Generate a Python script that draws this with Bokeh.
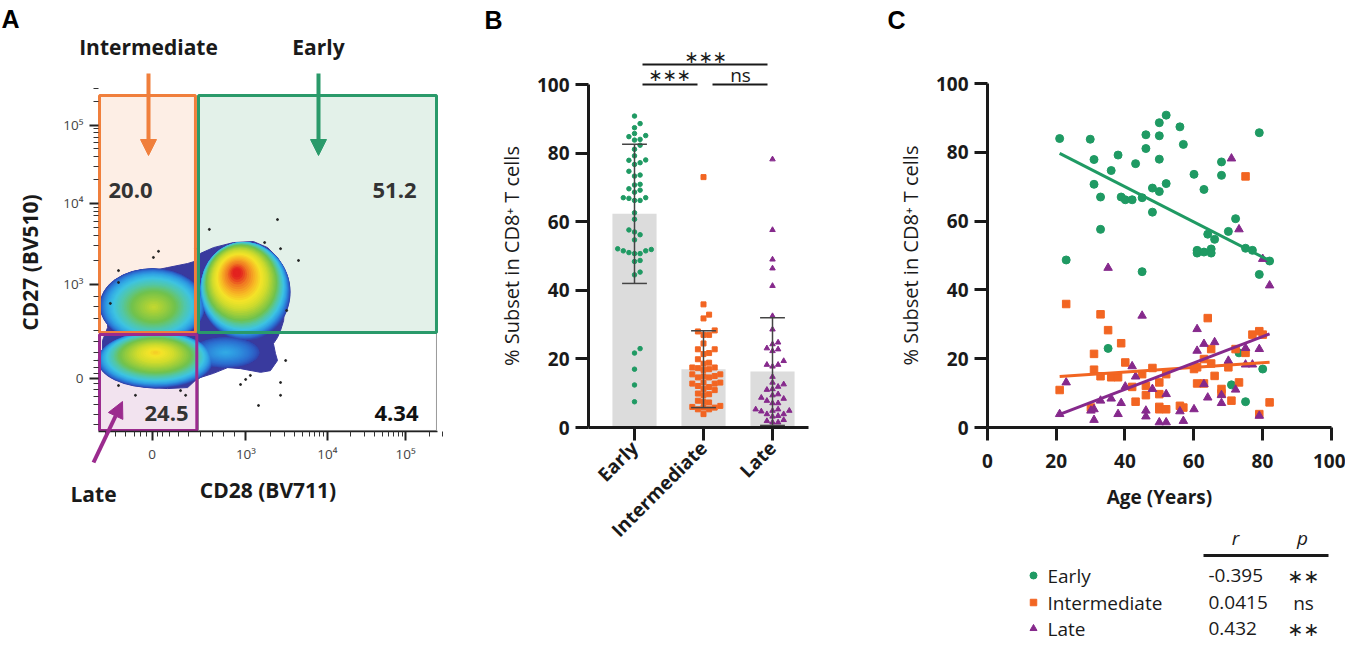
import math
from bokeh.plotting import figure
from bokeh.layouts import row
from bokeh.models import (Range1d, FixedTicker, LinearAxis, Arrow, NormalHead)
from bokeh.core.properties import value
from bokeh.embed import file_html
from bokeh.resources import INLINE

FONT = "Open Sans"

# ---------------- data ----------------
subsets = ["Early", "Intermediate", "Late"]

early_age = [21.0, 22.9, 29.9, 31.0, 31.0, 32.9, 32.9, 35.1, 36.0, 38.0, 38.9, 40.1, 42.1, 43.1, 45.0,
             45.0, 46.1, 46.1, 48.0, 48.0, 50.0, 50.0, 50.0, 50.0, 52.0, 52.0, 56.0, 57.0, 60.1, 61.0,
             61.0, 63.0, 63.0, 64.1, 65.1, 65.1, 66.1, 68.1, 68.1, 70.1, 72.2, 73.2, 71.0, 75.1, 75.1,
             77.1, 79.1, 79.1, 80.1, 82.1]
early_pct = [84.0, 48.7, 83.8, 77.9, 70.7, 67.0, 57.6, 23.0, 74.7, 79.2, 67.0, 66.2, 66.2, 76.7, 66.8,
             45.3, 85.1, 81.1, 69.6, 62.6, 88.6, 84.8, 78.0, 68.6, 90.8, 70.9, 87.4, 82.3, 73.6, 50.7,
             51.5, 69.2, 51.0, 56.2, 51.9, 50.7, 54.7, 77.2, 73.3, 57.0, 60.7, 21.7, 12.4, 7.5, 52.1,
             51.5, 85.7, 44.5, 17.0, 48.4]

inter_age = [21.0, 22.9, 30.1, 31.0, 31.0, 32.9, 32.9, 35.1, 36.0, 38.0, 38.9, 40.1, 42.1, 43.1, 45.0,
             46.1, 46.1, 48.0, 50.0, 50.0, 50.0, 50.0, 52.0, 52.0, 56.0, 57.0, 60.1, 61.0, 61.0, 63.0,
             63.0, 64.1, 65.1, 65.1, 66.1, 68.1, 68.1, 70.1, 71.0, 72.2, 73.2, 75.1, 75.1, 77.1, 79.1,
             80.1, 79.1, 82.1]
inter_pct = [10.9, 35.9, 5.8, 21.4, 16.8, 32.9, 14.9, 28.3, 14.6, 14.6, 24.5, 18.9, 11.8, 7.5, 15.5,
             12.1, 9.4, 17.3, 13.1, 9.7, 6.0, 5.3, 15.5, 5.3, 6.3, 5.8, 17.0, 17.5, 12.8, 12.8,
             19.9, 31.8, 22.8, 18.6, 15.0, 11.2, 9.9, 17.5, 7.8, 22.8, 13.1, 73.0, 21.7, 27.0, 28.0,
             27.0, 3.9, 7.3]

late_age = [21.0, 22.9, 30.1, 31.0, 31.0, 32.9, 35.1, 36.0, 38.0, 38.9, 40.1, 42.1, 43.1, 45.0, 46.1,
            46.1, 48.0, 50.0, 52.0, 52.0, 56.0, 57.0, 60.1, 61.0, 61.0, 63.0, 63.0, 64.1, 66.1, 68.1,
            68.1, 70.1, 71.0, 72.2, 73.2, 75.1, 75.1, 77.1, 79.1, 79.1, 80.1, 82.1]
late_pct = [3.9, 13.1, 4.9, 5.3, 2.2, 7.8, 46.4, 8.4, 3.9, 7.1, 11.9, 17.8, 14.8, 32.5, 4.9,
            3.2, 11.2, 1.5, 1.5, 9.7, 4.7, 1.9, 5.3, 28.6, 22.3, 24.3, 12.6, 8.7, 24.8, 7.1,
            9.4, 19.4, 78.2, 11.0, 57.6, 23.1, 18.3, 18.3, 22.8, 3.4, 49.0, 41.3]

bar_mean = [62.3, 17.0, 16.3]
bar_sd = [20.3, 11.2, 15.7]

fit_age = [21.0, 82.1]
early_fit = [79.7, 48.5]
inter_fit = [14.8, 19.0]
late_fit = [3.8, 27.2]

r_values = ["-0.395", "0.0415", "0.432"]
p_values = ["∗∗", "ns", "∗∗"]

gate_pct = ["20.0", "51.2", "24.5", "4.34"]

# flow-cytometry gates (display scale 0-100 on both axes)
gate_left = [0.3, 29.5, 0.3]
gate_right = [28.6, 99.7, 29.0]
gate_bottom = [29.3, 29.3, 0.3]
gate_top = [99.4, 99.4, 28.7]
gate_line = ["#f07f3c", "#2a9a6a", "#9b2b8e"]
gate_fill = ["#fdeee5", "#e3f1e9", "#f2e3ef"]

# outer contour of the event cloud
cloud_x = [3.5, 5.0, 8.6, 14.5, 20.4, 26.3, 29.2, 30.1, 33.9, 39.8, 45.7, 49.9, 52.8, 54.6, 55.2,
           54.6, 53.7, 52.8, 51.6, 52.2, 52.8, 50.7, 47.8, 41.9, 38.1, 33.9, 29.2, 26.3, 20.4,
           14.5, 8.6, 4.4, 2.1, 1.2, 1.2, 2.7, 2.7]
cloud_y = [40.8, 44.7, 46.4, 47.3, 48.5, 49.7, 50.6, 52.7, 54.4, 55.9, 56.2, 54.4, 51.5, 48.5, 40.8,
           32.8, 29.9, 27.8, 26.0, 23.1, 21.0, 18.0, 17.5, 18.6, 18.9, 17.2, 15.7, 13.0, 12.7,
           13.0, 14.2, 16.0, 18.9, 23.1, 26.9, 30.8, 34.9]
# density peaks inside the cloud: base centre, drift of the core, size, peak level
blob_x = [43.4, 15.9, 16.8, 37.5]
blob_y = [41.2, 37.3, 21.0, 23.4]
blob_dx = [-2.7, 0.4, 0.0, 0.0]
blob_dy = [6.0, -0.5, 2.4, 0.0]
blob_w = [26.5, 31.0, 34.0, 20.0]
blob_h = [28.5, 22.0, 16.5, 9.0]
blob_peak = [1.06, 0.64, 0.80, 0.25]
jet = ["#393a9e", "#2f4fb8", "#2c76d4", "#30a2e4", "#3ec4e2", "#52c7a8", "#71c24c",
       "#a0ce3a", "#d2dc2c", "#f4e428", "#f7b625", "#f07c22", "#e3221f"]
# isolated events
event_x = [17.7, 16.2, 5.9, 5.9, 32.7, 52.8, 49.0, 53.7, 59.0, 55.5, 44.8, 43.4, 41.9, 47.2, 53.7,
           53.7, 55.2, 5.9, 10.9, 24.2, 25.7, 3.5, 28.6]
event_y = [53.3, 51.5, 47.6, 44.1, 59.8, 62.7, 55.9, 54.1, 50.6, 35.8, 16.6, 15.4, 13.9, 7.7, 10.7,
           14.5, 21.0, 13.6, 10.7, 12.1, 10.7, 37.9, 54.1]

a_major = [15.8, 43.5, 67.5, 90.6]
a_labels = ["0", "10³", "10⁴", "10⁵"]

GREEN = "#1f9a63"
ORANGE = "#f26522"
PURPLE = "#86298c"
DARK = "#1a1a1a"
H = 645          # page pixels 0..645 (Bokeh page has no body margin)


def jet_color(t):
    t = min(max(t, 0.0), 1.0) * (len(jet) - 1)
    i = min(int(t), len(jet) - 2)
    f = t - i
    c0 = [int(jet[i][k:k + 2], 16) for k in (1, 3, 5)]
    c1 = [int(jet[i + 1][k:k + 2], 16) for k in (1, 3, 5)]
    return "#%02x%02x%02x" % tuple(round(a + (b - a) * f) for a, b in zip(c0, c1))


def decade_minors(majors):
    out = []
    for lo, hi in [(majors[1], majors[2]), (majors[2], majors[3])]:
        w = hi - lo
        out += [lo + math.log10(m) * w for m in range(2, 10)]
    w = majors[3] - majors[2]
    out += [majors[3] + math.log10(m) * w for m in (2, 3)]
    out += [2.0, 5.0, 8.0, 10.5, 12.5, 14.2, 17.3, 19.0, 21.0, 23.5, 26.5, 30.0, 33.5, 37.0, 40.0]
    return out


def make_fig(width, xr, yr):
    p = figure(frame_width=width, frame_height=H, x_range=Range1d(*xr), y_range=Range1d(*yr),
               min_border=0, min_border_left=0, min_border_right=0, min_border_top=0,
               min_border_bottom=0, x_axis_location=None, y_axis_location=None,
               output_backend="svg", toolbar_location=None)
    p.grid.visible = False
    p.outline_line_color = None
    p.background_fill_color = "white"
    p.border_fill_color = "white"
    return p


def letter(p, x, y, t):
    p.text(x=[x], y=[y], text=[t], text_font=value("Liberation Sans"), text_font_size="25px",
           text_font_style="bold", text_color="black", text_align="left", text_baseline="top")


# ================= Panel A (page x 0..468) =================
def ax_(px):
    return (px - 98) / 3.39


def ay_(py):
    return (431 - py) / 3.38


pa = make_fig(468, (ax_(0), ax_(468)), (ay_(H), ay_(0)))

pa.quad(left=gate_left, right=gate_right, bottom=gate_bottom, top=gate_top,
        fill_color=gate_fill, line_color=None)
pa.quad(left=[gate_left[1]], right=[gate_right[1]], bottom=[0.3], top=[gate_bottom[1]],
        fill_color=None, line_color="#9a9a9a", line_width=1)

pa.patch(cloud_x, cloud_y, fill_color=jet[0], line_color=jet[0], line_width=1)
NL = 44
levels = []
for b in range(len(blob_x)):
    for k in range(NL):
        f = k / NL
        r = 1.0 - f * f
        levels.append((blob_peak[b] * f, blob_x[b] + blob_dx[b] * f, blob_y[b] + blob_dy[b] * f,
                       blob_w[b] * r, blob_h[b] * r))
levels.sort(key=lambda t: t[0])
pa.ellipse(x=[l[1] for l in levels], y=[l[2] for l in levels], width=[l[3] for l in levels],
           height=[l[4] for l in levels], fill_color=[jet_color(0.03 + 0.97 * l[0]) for l in levels],
           line_color=None)
pa.scatter(event_x, event_y, size=2, color="#222222")

pa.quad(left=gate_left, right=gate_right, bottom=gate_bottom, top=gate_top,
        fill_color=None, line_color=gate_line, line_width=3)

pct_x = [ax_(130), ax_(394), ax_(166), ax_(396)]
pct_y = [ay_(190), ay_(190), ay_(413), ay_(413)]
pct_col = ["#333333", "#333333", "#333333", "#111111"]
pa.text(x=pct_x, y=pct_y, text=gate_pct, text_color=pct_col, text_font=value(FONT),
        text_font_size="22px", text_font_style="bold", text_align="center", text_baseline="middle")

ax_x = LinearAxis(fixed_location=0, bounds=(0, 100), axis_label="CD28 (BV711)")
ax_y = LinearAxis(fixed_location=0, bounds=(0, 100), axis_label="CD27 (BV510)")
pa.add_layout(ax_x, "below")
pa.add_layout(ax_y, "left")
for axis in (ax_x, ax_y):
    axis.ticker = FixedTicker(ticks=a_major, minor_ticks=decade_minors(a_major))
    axis.major_label_overrides = {t: l for t, l in zip(a_major, a_labels)}
    axis.axis_label_text_font = FONT
    axis.axis_label_text_font_size = "21px"
    axis.axis_label_text_font_style = "bold"
    axis.axis_label_text_color = DARK
    axis.major_label_text_font = FONT
    axis.major_label_text_font_size = "13.5px"
    axis.major_label_text_color = "#444444"
    axis.major_tick_out = 9
    axis.major_tick_in = 0
    axis.minor_tick_out = 5
    axis.minor_tick_in = 0
    axis.major_tick_line_color = "#222222"
    axis.minor_tick_line_color = "#333333"
    axis.major_tick_line_width = 2
    axis.minor_tick_line_width = 1
ax_y.axis_line_color = None
ax_x.axis_line_color = "#222222"
ax_x.axis_line_width = 1.5
ax_y.major_label_standoff = 6
ax_y.axis_label_standoff = 16
ax_x.major_label_standoff = 4
ax_x.axis_label_standoff = 10

pa.text(x=[ax_(148), ax_(318), ax_(93)], y=[ay_(46), ay_(46), ay_(493)],
        text=["Intermediate", "Early", "Late"], text_font=value(FONT), text_font_size="21px",
        text_font_style="bold", text_color=DARK, text_align="center", text_baseline="middle")
for col, x0, y0, x1, y1 in ((gate_line[0], 148, 73, 148, 155), (gate_line[1], 318, 73, 318, 155),
                            (gate_line[2], 93, 462, 122, 401)):
    pa.add_layout(Arrow(end=NormalHead(size=16, fill_color=col, line_color=col),
                        x_start=ax_(x0), y_start=ay_(y0), x_end=ax_(x1), y_end=ay_(y1),
                        line_color=col, line_width=4))
letter(pa, ax_(1), ay_(4), "A")

# ================= Panel B (page x 468..858) =================
PXX, PXY = 69.0, 3.43


def by_(py):
    return (427 - py) / PXY


def bx_(px):
    return 1 + (px - 634) / PXX


def swarm(vals, center, d=5.6):
    order = sorted(range(len(vals)), key=lambda i: vals[i])
    placed, xs = [], [0.0] * len(vals)
    cands = [0.0]
    for j in range(1, 25):
        cands += [j * d, -j * d]
    for i in order:
        ypx = vals[i] * PXY
        chosen = cands[-1]
        for c in cands:
            if all((c - qx) ** 2 + (ypx - qy) ** 2 >= d * d for qx, qy in placed):
                chosen = c
                break
        placed.append((chosen, ypx))
        xs[i] = center + chosen / PXX
    return xs


pb = make_fig(390, (bx_(468), bx_(858)), (by_(H), by_(0)))
cat_x = [1, 2, 3]
pb.vbar(x=cat_x, top=bar_mean, bottom=0, width=0.64, fill_color="#dcdcdc", line_color=None)
pb.scatter(swarm(early_pct, 1), early_pct, marker="circle", size=4.5, color=GREEN)
pb.scatter(swarm(inter_pct, 2), inter_pct, marker="square", size=5, color=ORANGE)
pb.scatter(swarm(late_pct, 3), late_pct, marker="triangle", size=5.5, color=PURPLE)
lo = [m - s for m, s in zip(bar_mean, bar_sd)]
hi = [m + s for m, s in zip(bar_mean, bar_sd)]
pb.segment(x0=cat_x, y0=lo, x1=cat_x, y1=hi, line_color="#444444", line_width=1.5)
cw = 0.18
pb.segment(x0=[c - cw for c in cat_x], y0=hi, x1=[c + cw for c in cat_x], y1=hi,
           line_color="#444444", line_width=1.5)
pb.segment(x0=[c - cw for c in cat_x], y0=lo, x1=[c + cw for c in cat_x], y1=lo,
           line_color="#444444", line_width=1.5)
# significance brackets
pb.segment(x0=[bx_(642), bx_(712), bx_(642)], y0=[100, 100, by_(64)],
           x1=[bx_(697), bx_(767), bx_(767)], y1=[100, 100, by_(64)],
           line_color=DARK, line_width=2)
pb.text(x=[bx_(669), bx_(705)], y=[by_(74), by_(56)], text=["∗∗∗", "∗∗∗"],
        text_font=value("DejaVu Sans"), text_font_size="17px", text_color=DARK,
        text_align="center", text_baseline="middle")
pb.text(x=[bx_(740)], y=[by_(74)], text=["ns"], text_font=value(FONT), text_font_size="19px",
        text_color=DARK, text_align="center", text_baseline="middle")

bx_axis = LinearAxis(fixed_location=0, bounds=(bx_(588), bx_(808)))
by_axis = LinearAxis(fixed_location=bx_(588), bounds=(0, 100), axis_label="% Subset in CD8⁺ T cells")
pb.add_layout(bx_axis, "below")
pb.add_layout(by_axis, "left")
by_axis.ticker = FixedTicker(ticks=[0, 20, 40, 60, 80, 100])
bx_axis.ticker = FixedTicker(ticks=cat_x)
bx_axis.major_label_overrides = {c: s for c, s in zip(cat_x, subsets)}
bx_axis.major_label_orientation = math.pi / 4
letter(pb, bx_(484), by_(5), "B")

# ================= Panel C (page x 858..1345) =================
CX, CY = 3.436, 3.44


def cx_(px):
    return (px - 987) / CX


def cy_(py):
    return (427 - py) / CY


pc = make_fig(487, (cx_(858), cx_(1345)), (cy_(H), cy_(0)))
pc.scatter(early_age, early_pct, marker="circle", size=8, color=GREEN)
pc.scatter(inter_age, inter_pct, marker="square", size=7.5, color=ORANGE)
pc.scatter(late_age, late_pct, marker="triangle", size=8.5, color=PURPLE)
pc.line(fit_age, early_fit, line_color=GREEN, line_width=3)
pc.line(fit_age, inter_fit, line_color=ORANGE, line_width=3)
pc.line(fit_age, late_fit, line_color=PURPLE, line_width=3)
cx_axis = LinearAxis(fixed_location=0, bounds=(0, 100), axis_label="Age (Years)")
cy_axis = LinearAxis(fixed_location=0, bounds=(0, 100), axis_label="% Subset in CD8⁺ T cells")
pc.add_layout(cx_axis, "below")
pc.add_layout(cy_axis, "left")
cx_axis.ticker = FixedTicker(ticks=[0, 20, 40, 60, 80, 100])
cy_axis.ticker = FixedTicker(ticks=[0, 20, 40, 60, 80, 100])

for xa, ya in ((bx_axis, by_axis), (cx_axis, cy_axis)):
    for axis in (xa, ya):
        axis.axis_line_color = DARK
        axis.axis_line_width = 3
        axis.major_tick_line_color = DARK
        axis.major_tick_line_width = 3
        axis.major_tick_out = 13
        axis.major_tick_in = 0
        axis.minor_tick_line_color = None
        axis.major_label_text_font = FONT
        axis.major_label_text_font_size = "19px"
        axis.major_label_text_font_style = "bold"
        axis.major_label_text_color = DARK
        axis.axis_label_text_font = FONT
        axis.axis_label_text_color = DARK
    ya.axis_label_text_font_size = "20px"
    ya.axis_label_text_font_style = "normal"
    ya.major_label_standoff = 6
    ya.axis_label_standoff = 9
cx_axis.axis_label_text_font_size = "19px"
cx_axis.axis_label_text_font_style = "bold"
cx_axis.major_label_standoff = 13
cx_axis.axis_label_standoff = 13
bx_axis.major_label_standoff = 4
letter(pc, cx_(887), cy_(5), "C")

# correlation table below panel C
TS = "19px"
pc.text(x=[cx_(1235), cx_(1302)], y=[cy_(537), cy_(537)], text=["r", "p"], text_font=value(FONT),
        text_font_size=TS, text_font_style="italic", text_color=DARK, text_align="center",
        text_baseline="middle")
pc.segment(x0=[cx_(1203)], y0=[cy_(555)], x1=[cx_(1328)], y1=[cy_(555)], line_color=DARK, line_width=3)
row_y = [cy_(575), cy_(602), cy_(628)]
mx = [cx_(1033)] * 3
pc.scatter(mx[:1], row_y[:1], marker="circle", size=7, color=GREEN)
pc.scatter(mx[1:2], row_y[1:2], marker="square", size=6.5, color=ORANGE)
pc.scatter(mx[2:], row_y[2:], marker="triangle", size=7, color=PURPLE)
pc.text(x=[cx_(1047)] * 3, y=row_y, text=subsets, text_font=value(FONT), text_font_size=TS,
        text_color=DARK, text_align="left", text_baseline="middle")
pc.text(x=[cx_(1208)] * 3, y=row_y, text=r_values, text_font=value(FONT), text_font_size=TS,
        text_color=DARK, text_align="left", text_baseline="middle")
pc.text(x=[cx_(1303), cx_(1303)], y=[row_y[0], row_y[2]], text=[p_values[0], p_values[2]],
        text_font=value("DejaVu Sans"), text_font_size=TS, text_color=DARK, text_align="center",
        text_baseline="middle")
pc.text(x=[cx_(1303)], y=[row_y[1]], text=[p_values[1]], text_font=value(FONT), text_font_size=TS,
        text_color=DARK, text_align="center", text_baseline="middle")

layout = row(pa, pb, pc)
open("out.html", "w").write(file_html(layout, INLINE))
